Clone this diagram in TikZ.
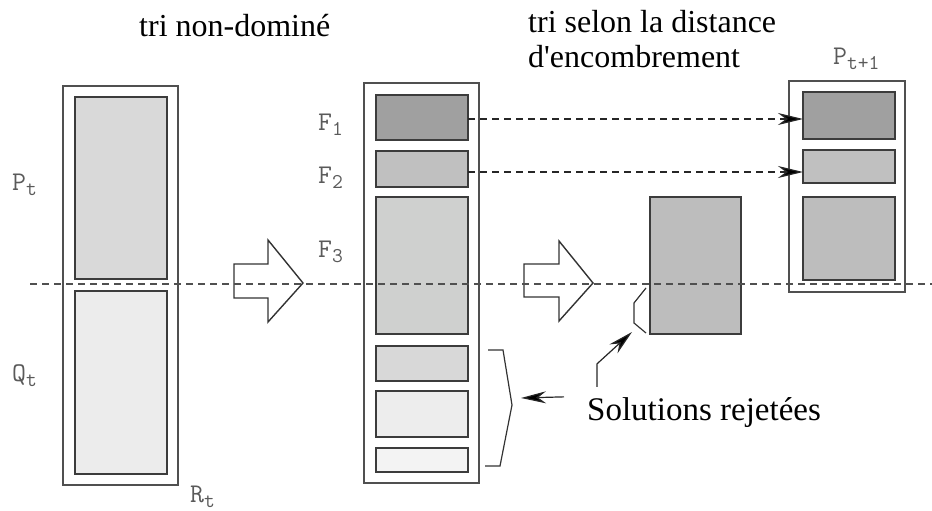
\documentclass[tikz,border=0pt]{standalone}
\usepackage{fontspec}
\setmainfont{Liberation Serif}[Ligatures=TeXOff]
\usetikzlibrary{arrows.meta,calc}
\definecolor{edgec}{HTML}{3C3C3C}
\definecolor{outc}{HTML}{505050}
\definecolor{labc}{HTML}{5A5A5A}
\definecolor{dashc}{HTML}{505050}
\definecolor{fA}{HTML}{A0A0A0}
\definecolor{fB}{HTML}{C0C0C0}
\definecolor{fC}{HTML}{CFD0CF}
\definecolor{fD}{HTML}{D8D8D8}
\definecolor{fE}{HTML}{EDEDED}
\definecolor{fF}{HTML}{F3F3F3}
\definecolor{fG}{HTML}{BDBDBD}
\definecolor{fP}{HTML}{D9D9D9}
\definecolor{fQ}{HTML}{ECECEC}
\newcommand\mlbl[2]{{\ttfamily\fontsize{27}{27}\selectfont #1\raisebox{-5pt}{\fontsize{21}{21}\selectfont #2}}}
\begin{document}
\begin{tikzpicture}[x=1pt,y=-1pt,
  box/.style={draw=edgec, line width=1.4pt, inner sep=0pt, outer sep=0pt, anchor=north west},
  outerbox/.style={draw=outc, line width=1.2pt, inner sep=0pt, outer sep=0pt, anchor=north west},
  lab/.style={text=labc, inner sep=0pt, anchor=base west},
  ttl/.style={font=\fontsize{32}{32}\selectfont, inner sep=0pt, anchor=base west},
  dline/.style={draw=dashc, line width=1.2pt, dash pattern=on 7pt off 5pt},
  arr/.style={-{Stealth[length=25pt,width=12pt,inset=8pt,fill=black]}, line width=1.2pt, draw=black!85},
  hollow/.style={draw=black!80, line width=1.4pt, line join=miter},
  brk/.style={draw=black!80, line width=1.2pt}
]
\useasboundingbox (0,0) rectangle (932,511);

% titles
\node[ttl] (t1) at (139,37) {tri non-dominé};
\node[ttl] (t2) at (528,33) {tri selon la distance};
\node[ttl] (t3) at (528,68) {d'encombrement};

% R_t column
\node[outerbox, minimum width=115pt, minimum height=399pt] (R) at (63,86) {};
\node[box, fill=fP, minimum width=92pt, minimum height=182pt] (Pt) at (75,97) {};
\node[box, fill=fQ, minimum width=92pt, minimum height=183pt] (Qt) at (75,291) {};
\node[lab] (lP) at (12,190) {\mlbl{P}{t}};
\node[lab] (lQ) at (12,381) {\mlbl{Q}{t}};
\node[lab] (lR) at (190,502) {\mlbl{R}{t}};

% middle column
\node[outerbox, minimum width=115pt, minimum height=400pt] (M) at (364,83) {};
\node[box, fill=fA, minimum width=92pt, minimum height=45pt] (F1) at (376,95) {};
\node[box, fill=fB, minimum width=92pt, minimum height=36pt] (F2) at (376,151) {};
\node[box, fill=fC, minimum width=92pt, minimum height=137pt] (F3) at (376,197) {};
\node[box, fill=fD, minimum width=92pt, minimum height=35pt] (F4) at (376,346) {};
\node[box, fill=fE, minimum width=92pt, minimum height=46pt] (F5) at (376,391) {};
\node[box, fill=fF, minimum width=92pt, minimum height=24pt] (F6) at (376,448) {};
\node[lab] (lF1) at (318,130) {\mlbl{F}{1}};
\node[lab] (lF2) at (318,183) {\mlbl{F}{2}};
\node[lab] (lF3) at (318,257) {\mlbl{F}{3}};

% crowding-sorted F3
\node[box, fill=fG, minimum width=91pt, minimum height=137pt] (C) at (650,197) {};

% P_{t+1}
\node[outerbox, minimum width=116pt, minimum height=211pt] (N) at (789,81) {};
\node[box, fill=fA, minimum width=92pt, minimum height=47pt] (N1) at (803,92) {};
\node[box, fill=fB, minimum width=92pt, minimum height=33pt] (N2) at (803,150) {};
\node[box, fill=fG, minimum width=92pt, minimum height=83pt] (N3) at (803,197) {};
\node[lab] (lN) at (833,65) {\mlbl{P}{t+1}};

% hollow arrows
\draw[hollow] (234,264) -- (268,264) -- (268,240) -- (303,283) -- (268,322) -- (268,298) -- (234,298) -- cycle;
\draw[hollow] (524,264) -- (559,264) -- (559,241) -- (593,283) -- (559,321) -- (559,297) -- (524,297) -- cycle;

% dashed arrows F1, F2 -> P_{t+1}
\draw[dline, arr] ([yshift=-1.5pt]F1.east) -- ([yshift=-1.5pt]F1.east -| N1.west);
\draw[dline, arr] ([yshift=-3pt]F2.east) -- ([yshift=-3pt]F2.east -| N2.west);

% brackets
\draw[brk] (646,288) -- (634,303) -- (634,323) -- (646,333);
\draw[brk] (488,350) -- (503,350) -- (512,405) -- (500,466) -- (485,466);
\coordinate (tipA) at (632,332);
\coordinate (tipB) at (521,398);

% label
\node[ttl, font=\fontsize{33}{33}\selectfont] (sol) at (587,420) {Solutions rejetées};
\draw[arr, line join=round] ([shift={(10,-10)}]sol.north west) -- ++(0,-23) -- (tipA);
\draw[arr] ([shift={(-23,0)}]sol.north west) -- (tipB);

% dashed separator
\coordinate (dl) at (30,284);
\coordinate (dr) at (932,284);
\draw[dline] (dl) -- (dr);
\end{tikzpicture}
\end{document}
